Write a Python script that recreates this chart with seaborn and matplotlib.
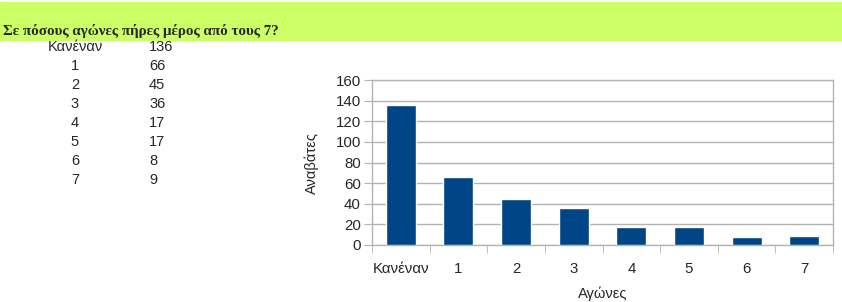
import pandas as pd
import matplotlib
matplotlib.use("Agg")
from matplotlib import pyplot as plt
from matplotlib.patches import Rectangle
import seaborn as sns

# Δεδομένα
agones = ["Κανέναν", "1", "2", "3", "4", "5", "6", "7"]
anavates = [136, 66, 45, 36, 17, 17, 8, 9]
y_ticks = [0, 20, 40, 60, 80, 100, 120, 140, 160]

df = pd.DataFrame({"Αγώνες": agones, "Αναβάτες": anavates})

sns.set_style("white")
plt.rcParams["font.family"] = ["Liberation Sans", "DejaVu Sans"]

fig = plt.figure(figsize=(8.42, 3.02), dpi=100)

# Πράσινη λωρίδα τίτλου
fig.patches.append(Rectangle((0, 1 - 40 / 302), 1, 38 / 302, transform=fig.transFigure,
                             color="#ccff66", zorder=0))
fig.text(3 / 842, 1 - 35 / 302, "Σε πόσους αγώνες πήρες μέρος από τους 7?",
         family="Liberation Serif", weight="bold", fontsize=10.8, va="baseline")

# Πίνακας τιμών
for i, (a, v) in enumerate(zip(agones, anavates)):
    y = 1 - (47 + i * 19) / 302
    fig.text(75 / 842, y, a, ha="center", va="center", fontsize=10.5)
    fig.text(149 / 842, y, str(v), ha="left", va="center", fontsize=10.5)

# Γράφημα
ax = fig.add_axes([372 / 842, 1 - 245 / 302, 461 / 842, 165 / 302])
sns.barplot(x="Αγώνες", y="Αναβάτες", data=df, color="#004586", width=0.52,
            saturation=1, ax=ax, zorder=3)
ax.set_ylim(0, 160)
ax.set_xlim(-0.5, len(agones) - 0.5)
ax.set_yticks(y_ticks)
ax.yaxis.grid(True, color="#b3b3b3", linewidth=1, zorder=0)
for s in ax.spines.values():
    s.set_color("#b3b3b3")
    s.set_linewidth(1)
ax.tick_params(axis="y", left=True, length=6, color="#b3b3b3", labelsize=10.8, pad=2)
ax.tick_params(axis="x", bottom=False, labelsize=10.8, pad=9)
ax.set_xticks([i + 0.5 for i in range(-1, len(agones))], minor=True)
ax.tick_params(axis="x", which="minor", bottom=True, length=6, color="#b3b3b3")
ax.set_xlabel("Αγώνες", fontsize=10.5, labelpad=7)
ax.set_ylabel("Αναβάτες", fontsize=10.5, labelpad=12)

fig.savefig("out.png", dpi=100)
